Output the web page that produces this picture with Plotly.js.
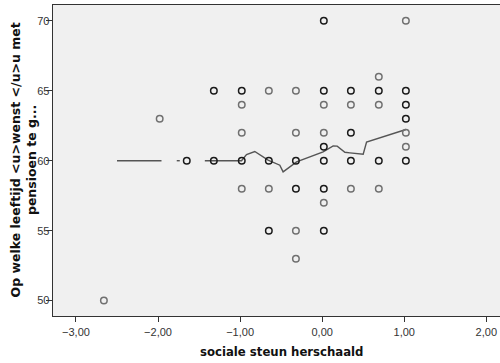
<!DOCTYPE html>
<html>
<head>
<meta charset="utf-8">
<script src="https://cdn.plot.ly/plotly-3.0.1.min.js"></script>
<style>html,body{margin:0;padding:0;background:#fff;overflow:hidden}</style>
</head>
<body>
<div id="chart" style="width:500px;height:363px"></div>
<script>
// observed points: x (sociale steun herschaald), y (leeftijd), n (overlap count)
var pointX = [-2.66, -1.98, -1.65,
  -1.32, -1.32,
  -0.98, -0.98, -0.98, -0.98, -0.98,
  -0.65, -0.65, -0.65, -0.65,
  -0.32, -0.32, -0.32, -0.32, -0.32, -0.32,
  0.02, 0.02, 0.02, 0.02, 0.02, 0.02, 0.02, 0.02, 0.02,
  0.35, 0.35, 0.35, 0.35, 0.35,
  0.69, 0.69, 0.69, 0.69, 0.69,
  1.02, 1.02, 1.02, 1.02, 1.02, 1.02, 1.02];
var pointY = [50, 63, 60,
  65, 60,
  65, 64, 62, 60, 58,
  65, 60, 58, 55,
  65, 62, 60, 58, 55, 53,
  70, 65, 64, 62, 61, 60, 58, 57, 55,
  65, 64, 62, 60, 58,
  66, 65, 64, 60, 58,
  70, 65, 64, 63, 62, 61, 60];
var pointN = [1, 1, 2,
  2, 2,
  2, 1, 1, 2, 1,
  1, 2, 1, 2,
  1, 1, 2, 2, 1, 1,
  2, 2, 1, 1, 2, 2, 2, 1, 2,
  2, 1, 2, 2, 1,
  1, 2, 1, 2, 1,
  1, 2, 2, 2, 1, 1, 2];

// loess fit line (null = gap)
var fitX = [-2.50, -1.958, null, -1.772, -1.735, null, -1.43, -0.983, -0.922, -0.821, -0.659, -0.516, -0.476, -0.312, 0.012, 0.134, 0.183, 0.277, 0.338, 0.50, 0.541, 1.021];
var fitY = [60, 60, null, 60, 60, null, 60, 60, 60.44, 60.66, 60.04, 59.68, 59.2, 59.91, 60.63, 61.06, 61.04, 60.6, 60.56, 60.46, 61.34, 62.23];

var xTitle = 'sociale steun herschaald';
var yTitle = 'Op welke leeftijd &lt;u&gt;wenst &lt;/u&gt;u met<br>pensioen te g...';

var markerColors = pointN.map(function(n){ return n > 1 ? '#1a1a1a' : '#707070'; });

var traces = [
  {
    x: fitX, y: fitY, type: 'scatter', mode: 'lines',
    line: {color: '#555555', width: 1.4},
    connectgaps: false, hoverinfo: 'skip', showlegend: false
  },
  {
    x: pointX, y: pointY, type: 'scatter', mode: 'markers',
    marker: {symbol: 'circle-open', size: 6.5, color: markerColors, line: {width: 1.5}},
    showlegend: false
  }
];

var tickFont = {family: '"Liberation Sans Narrow", "Arial Narrow", "Liberation Sans", Arial, sans-serif', size: 11, color: '#333'};

var layout = {
  width: 500, height: 363,
  margin: {l: 53, r: 0, t: 5, b: 47},
  paper_bgcolor: '#ffffff',
  plot_bgcolor: '#f0f0f0',
  separators: ',.',
  showlegend: false,
  xaxis: {
    range: [-3.28, 2.167],
    tick0: 0, dtick: 1, tickformat: '.2f',
    ticks: 'outside', ticklen: 5, tickwidth: 1, tickcolor: '#333',
    showline: true, linecolor: '#333', linewidth: 1.3, mirror: true,
    showgrid: false, zeroline: false,
    tickfont: tickFont
  },
  yaxis: {
    range: [48.9, 71.13],
    tick0: 50, dtick: 5,
    ticks: 'outside', ticklen: 6, tickwidth: 1, tickcolor: '#333',
    ticklabelstandoff: -6,
    showline: true, linecolor: '#333', linewidth: 1.3, mirror: false,
    showgrid: false, zeroline: false,
    tickfont: tickFont
  },
  annotations: [
    {
      text: xTitle, xref: 'paper', yref: 'paper', x: 0.5, y: 0,
      xanchor: 'center', yanchor: 'middle', xshift: 5, yshift: -35,
      showarrow: false,
      font: {family: '"DejaVu Sans Condensed", "DejaVu Sans", sans-serif', size: 13, color: '#111', weight: 'bold'}
    },
    {
      text: yTitle, xref: 'paper', yref: 'paper', x: 0, y: 0.5,
      xanchor: 'center', yanchor: 'middle', xshift: -30, textangle: -90,
      showarrow: false,
      font: {family: '"DejaVu Sans", sans-serif', size: 12.5, color: '#111', weight: 'bold'}
    }
  ]
};

Plotly.newPlot('chart', traces, layout, {displayModeBar: false, staticPlot: true});
</script>
</body>
</html>
